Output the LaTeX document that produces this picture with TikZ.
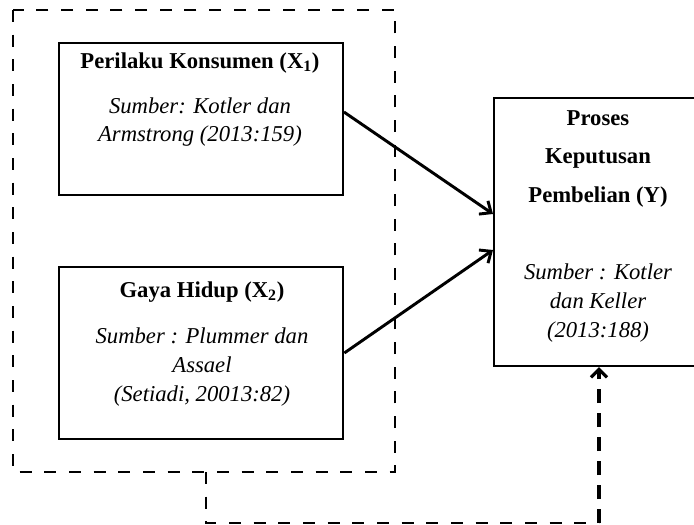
\documentclass[tikz,border=0pt]{standalone}
\usepackage{fontspec}
\setmainfont{Liberation Serif}
\usetikzlibrary{arrows.meta}

\tikzset{every picture/.style={line width=0.75pt}}
\tikzset{
	varbox/.style={draw, line width=1.4pt, inner sep=0pt},
	hd/.style={font=\fontsize{17}{28.9}\selectfont\bfseries, align=center, anchor=north, inner sep=0pt},
	src/.style={font=\fontsize{17}{21.5}\selectfont\itshape, align=center, anchor=north, inner sep=0pt},
	thin dash/.style={dash pattern=on 9pt off 9.5pt, line width=1.2pt},
	link/.style={line width=2.2pt, -{Straight Barb[length=7pt,width=12pt,line width=2.2pt]}}}

\begin{document}
\begin{tikzpicture}[x=0.75pt,y=0.75pt,yscale=-1,xscale=1]
	\clip (0,0) rectangle (694,525);

	%Shape: Rectangle [dashed frame round X1 and X2]
	\draw [thin dash] (13,10) rectangle (395,472);

	%Shape: Rectangle [X1]
	\node [varbox, minimum width=213pt, minimum height=114pt] (bx1) at (201,119) {};
	%Shape: Rectangle [X2]
	\node [varbox, line width=2pt, minimum width=213pt, minimum height=129pt] (bx2) at (201,353) {};
	%Shape: Rectangle [Y]
	\node [varbox, line width=1.5pt, minimum width=156pt, minimum height=201pt] (bxy) at (598,232) {};

	% Text Node
	\node [hd] (tx1) at (200,52) {Perilaku Konsumen (X\textsubscript{1})};
	% Text Node
	\node [src] (sx1) at (200,97) {Sumber: Kotler dan\\Armstrong (2013:159)};
	% Text Node
	\node [hd] (tx2) at (202,281) {Gaya Hidup (X\textsubscript{2})};
	% Text Node
	\node [src, font=\fontsize{17}{21.75}\selectfont\itshape] (sx2) at (202,327) {Sumber : Plummer dan\\Assael\\(Setiadi, 20013:82)};
	% Text Node
	\node [hd] (txy) at (598,110) {Proses\\Keputusan\\Pembelian (Y)};
	% Text Node
	\node [src, font=\fontsize{17}{22}\selectfont\itshape] (sxy) at (598,263) {Sumber : Kotler\\dan Keller\\(2013:188)};

	%Straight Lines [X1 -> Y]
	\draw [link] ([yshift=-5.25pt]bx1.east) -- ([yshift=-13.5pt]bxy.west);
	%Straight Lines [X2 -> Y]
	\draw [link] (bx2.east) -- ([yshift=13.5pt]bxy.west);

	%Straight Lines [dashed loop back to Y]
	\coordinate (lp) at (206,472);
	\coordinate (lq) at (206,523);
	\coordinate (lr) at (599,523);
	\draw [thin dash] (lp) -- (lq) -- (lr);
	\draw [dash pattern=on 10.5pt off 7.5pt, line width=2.6pt, -{Straight Barb[length=6pt,width=12pt,line width=2.4pt]}] (lr) -- (lr |- bxy.south);

\end{tikzpicture}
\end{document}
